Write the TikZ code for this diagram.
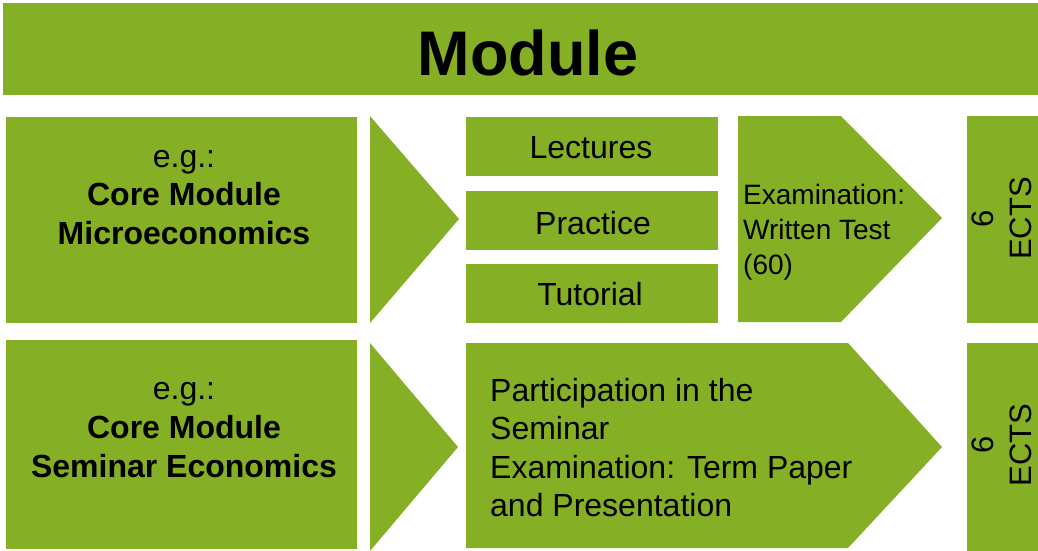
\documentclass[tikz,border=0pt]{standalone}
\usepackage{fontspec}
\setmainfont{Liberation Sans}
\definecolor{mgreen}{RGB}{133,176,37}
\tikzset{
  gshape/.style={fill=mgreen},
  txt/.style={inner sep=0pt, text=black},
  lefttxt/.style={txt, align=center, font=\fontsize{32}{38.5}\selectfont},
  itemtxt/.style={txt, font=\fontsize{32}{37}\selectfont},
  ectstxt/.style={txt, align=center, rotate=90, font=\fontsize{31}{38}\selectfont},
}
\begin{document}
\begin{tikzpicture}[x=1pt,y=-1pt]
\useasboundingbox (0,0) rectangle (1038,550);
\clip (0,0) rectangle (1038,550);
% title bar
\fill[gshape] (3,3) rectangle (1042,95);
% row 1 shapes
\fill[gshape] (6,117) rectangle (357,323);
\fill[gshape] (370,116) -- (459,219) -- (370,323) -- cycle;
\fill[gshape] (466,117) rectangle (718,176);
\fill[gshape] (466,191) rectangle (718,250);
\fill[gshape] (466,264) rectangle (718,323);
\fill[gshape] (738,116) -- (841,116) -- (942,218) -- (841,322) -- (738,322) -- cycle;
\fill[gshape] (967,116) rectangle (1042,323);
% row 2 shapes
\fill[gshape] (6,340) rectangle (357,549);
\fill[gshape] (370,343) -- (458,447) -- (370,551) -- cycle;
\fill[gshape] (466,343) -- (848,343) -- (942,447) -- (848,548) -- (466,548) -- cycle;
\fill[gshape] (967,343) rectangle (1042,552);
% texts
\node[txt, anchor=base, font=\fontsize{63}{70}\selectfont\bfseries] (title) at (528,75) {Module};
\node[lefttxt, anchor=center] (core1) at (184,197.5) {e.g.:\\\textbf{Core Module}\\\textbf{Microeconomics}};
\node[itemtxt, anchor=center] (lect) at (591,148) {Lectures};
\node[itemtxt, anchor=center] (prac) at (593,223) {Practice};
\node[itemtxt, anchor=center] (tut) at (590,294) {Tutorial};
\node[txt, anchor=north west, align=left, font=\fontsize{28}{34.7}\selectfont] (exam) at (743,184.5) {Examination:\\Written Test\\(60)};
\node[ectstxt, anchor=center] (ects1) at (1002,218.5) {6\\ECTS};
\node[lefttxt, anchor=center, font=\fontsize{32}{39}\selectfont] (core2) at (184,430.5) {e.g.:\\\textbf{Core Module}\\\textbf{Seminar Economics}};
\node[txt, anchor=north west, align=left, font=\fontsize{32}{38.5}\selectfont] (sem) at (490,378) {Participation in the\\Seminar\\Examination: Term Paper\\and Presentation};
\node[ectstxt, anchor=center] (ects2) at (1002,445) {6\\ECTS};
\end{tikzpicture}
\end{document}
